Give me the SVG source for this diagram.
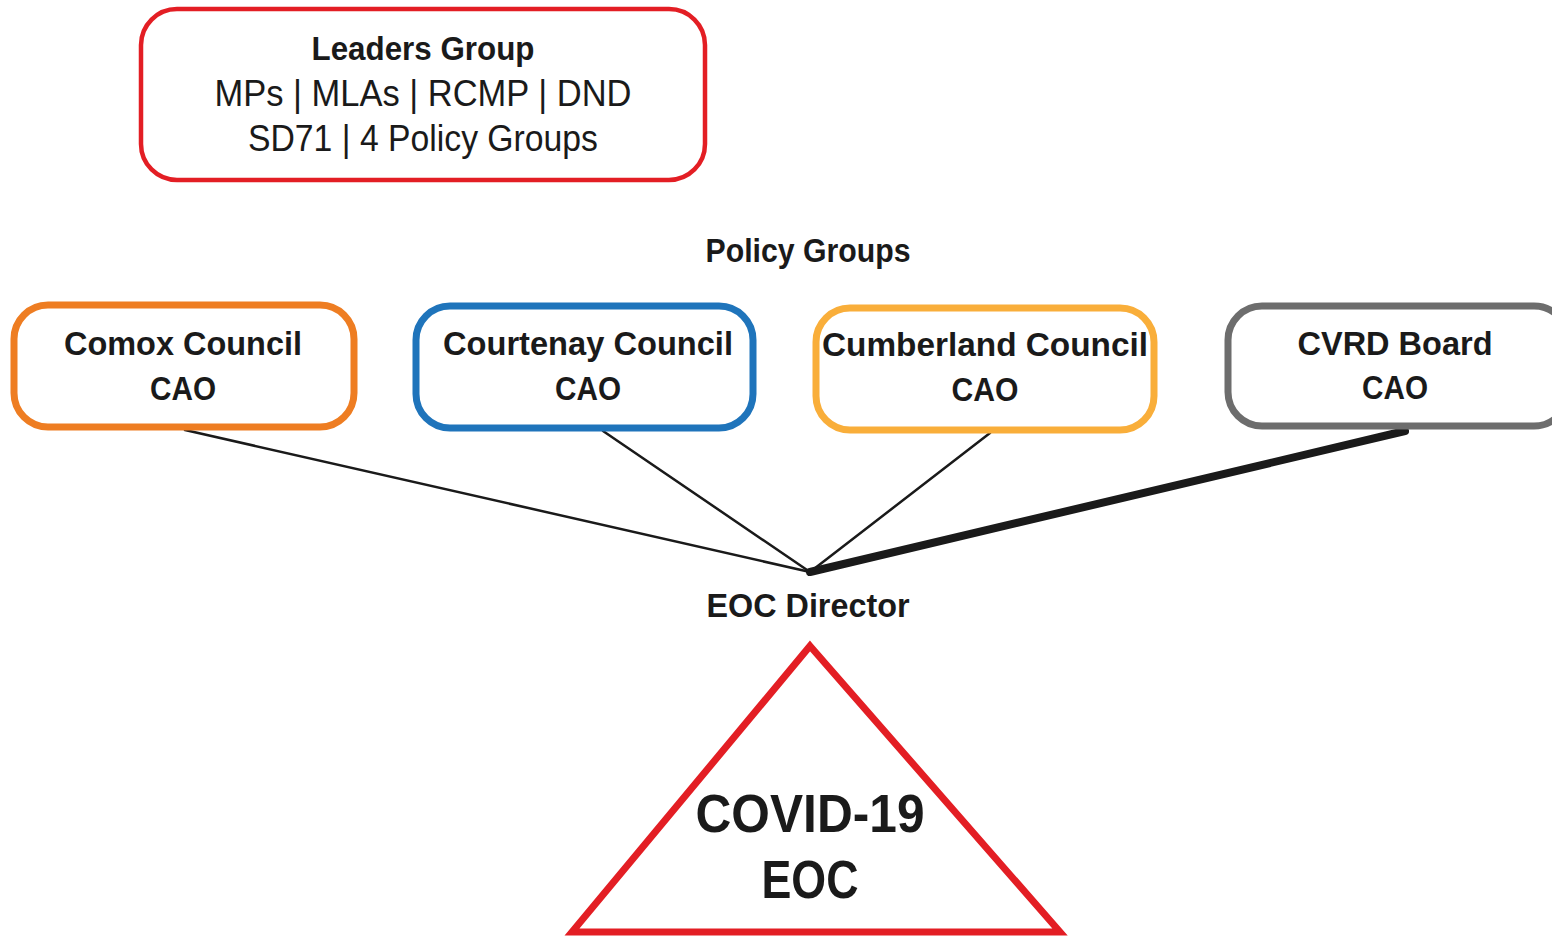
<svg xmlns="http://www.w3.org/2000/svg" width="1552" height="936" viewBox="0 0 1552 936">
<style>
text{font-family:"Liberation Sans Narrow","Liberation Sans",Arial,sans-serif;fill:#1a1a1a;text-anchor:middle}
.b{font-weight:bold}
.box{fill:#fff;stroke-width:7}
</style>
<rect width="1552" height="936" fill="#fff"/>
<g id="leaders">
<rect x="141" y="9" width="564" height="171" rx="36" fill="#fff" stroke="#e31e24" stroke-width="4.5"/>
<text class="b" x="423" y="60" font-size="34" textLength="223" lengthAdjust="spacingAndGlyphs">Leaders Group</text>
<text x="423" y="106" font-size="36" textLength="417" lengthAdjust="spacingAndGlyphs">MPs | MLAs | RCMP | DND</text>
<text x="423" y="151" font-size="36" textLength="350" lengthAdjust="spacingAndGlyphs">SD71 | 4 Policy Groups</text>
</g>
<g id="policy-groups-label">
<text class="b" x="808" y="262" font-size="34" textLength="205" lengthAdjust="spacingAndGlyphs">Policy Groups</text>
</g>
<g id="connectors" stroke="#1a1a1a" stroke-linecap="round">
<line x1="185" y1="430" x2="810" y2="572" stroke-width="2.5"/>
<line x1="603" y1="431" x2="810" y2="572" stroke-width="2.5"/>
<line x1="990" y1="433" x2="810" y2="572" stroke-width="2.5"/>
<line x1="1405" y1="431" x2="810" y2="572" stroke-width="8"/>
</g>
<g id="comox">
<rect class="box" x="14" y="305" width="340" height="122" rx="34" stroke="#ee7d22"/>
<text class="b" x="183" y="355" font-size="33" textLength="238" lengthAdjust="spacingAndGlyphs">Comox Council</text>
<text class="b" x="183" y="400" font-size="33" textLength="66" lengthAdjust="spacingAndGlyphs">CAO</text>
</g>
<g id="courtenay">
<rect class="box" x="416" y="306" width="337" height="122" rx="34" stroke="#1f74bb"/>
<text class="b" x="588" y="355" font-size="33" textLength="290" lengthAdjust="spacingAndGlyphs">Courtenay Council</text>
<text class="b" x="588" y="400" font-size="33" textLength="66" lengthAdjust="spacingAndGlyphs">CAO</text>
</g>
<g id="cumberland">
<rect class="box" x="816" y="308" width="338" height="122" rx="34" stroke="#f9ae3a"/>
<text class="b" x="985" y="356" font-size="33" textLength="326" lengthAdjust="spacingAndGlyphs">Cumberland Council</text>
<text class="b" x="985" y="401" font-size="33" textLength="67" lengthAdjust="spacingAndGlyphs">CAO</text>
</g>
<g id="cvrd">
<rect class="box" x="1228" y="306" width="340" height="120" rx="34" stroke="#6d6d6d"/>
<text class="b" x="1395" y="355" font-size="33" textLength="195" lengthAdjust="spacingAndGlyphs">CVRD Board</text>
<text class="b" x="1395" y="399" font-size="33" textLength="66" lengthAdjust="spacingAndGlyphs">CAO</text>
</g>
<g id="eoc-director">
<text class="b" x="808" y="617" font-size="33" textLength="203" lengthAdjust="spacingAndGlyphs">EOC Director</text>
</g>
<g id="covid-eoc">
<polygon points="810,646 1060,932 572,932" fill="#fff" stroke="#e31e24" stroke-width="7" stroke-linejoin="miter"/>
<text class="b" x="810" y="832" font-size="54" textLength="229" lengthAdjust="spacingAndGlyphs">COVID-19</text>
<text class="b" x="810" y="898" font-size="54" textLength="97" lengthAdjust="spacingAndGlyphs">EOC</text>
</g>
</svg>
